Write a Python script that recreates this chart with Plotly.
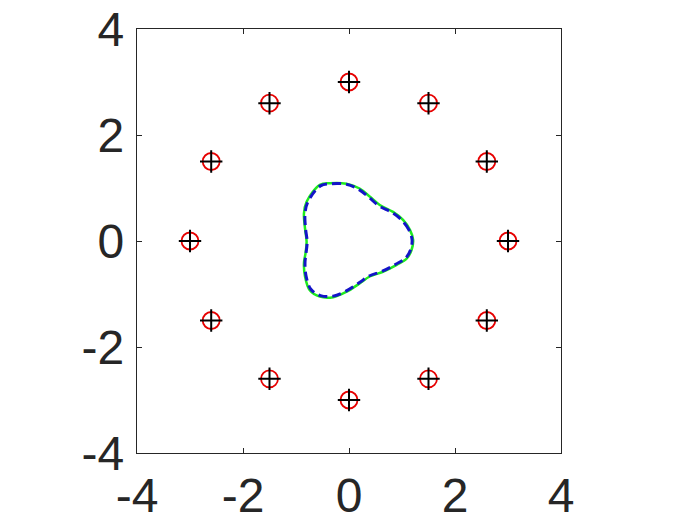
import plotly.graph_objects as go

# Sample points (red circles) and true points (black plus)
pts_x = [3.0, 2.6, 1.5, 0.0, -1.5, -2.6, -3.0, -2.6, -1.5, 0.0, 1.5, 2.6]
pts_y = [0.0, 1.5, 2.6, 3.0, 2.6, 1.5, 0.0, -1.5, -2.6, -3.0, -2.6, -1.5]

# Reconstructed boundary (green solid)
green_x = [1.21, 1.15, 1.02, 0.83, 0.58, 0.39, 0.20, -0.05, -0.36, -0.55, -0.80, -0.85,
           -0.83, -0.80, -0.82, -0.85, -0.83, -0.74, -0.55, -0.30, -0.05, 0.20, 0.39,
           0.64, 0.90, 1.09, 1.18, 1.21]
green_y = [0.02, 0.21, 0.40, 0.55, 0.68, 0.84, 0.99, 1.08, 1.09, 1.06, 0.74, 0.52,
           0.24, -0.01, -0.23, -0.42, -0.67, -0.93, -1.05, -1.06, -0.96, -0.80, -0.67,
           -0.58, -0.45, -0.33, -0.17, 0.02]

# True boundary (blue dashed)
blue_x = [1.19, 1.13, 1.00, 0.81, 0.57, 0.38, 0.19, -0.05, -0.35, -0.54, -0.78, -0.83,
          -0.82, -0.79, -0.81, -0.83, -0.81, -0.72, -0.54, -0.30, -0.05, 0.19, 0.38,
          0.63, 0.88, 1.07, 1.16, 1.19]
blue_y = [0.02, 0.21, 0.39, 0.54, 0.66, 0.82, 0.97, 1.07, 1.08, 1.04, 0.73, 0.51,
          0.24, -0.01, -0.23, -0.41, -0.66, -0.91, -1.03, -1.04, -0.94, -0.79, -0.66,
          -0.57, -0.44, -0.32, -0.17, 0.02]

tick_vals = [-4, -2, 0, 2, 4]
tick_text = ["-4", "-2", "0", "2", "4"]

fig = go.Figure()
fig.add_trace(go.Scatter(x=green_x, y=green_y, mode="lines",
                         line=dict(color="rgb(30,235,30)", width=2.5, shape="spline"),
                         showlegend=False))
fig.add_trace(go.Scatter(x=blue_x, y=blue_y, mode="lines",
                         line=dict(color="rgb(20,20,200)", width=3, dash="9px,5px", shape="spline"),
                         showlegend=False))
fig.add_trace(go.Scatter(x=pts_x, y=pts_y, mode="markers",
                         marker=dict(symbol="circle-open", size=17, color="rgb(230,0,0)",
                                     line=dict(width=1.8, color="rgb(230,0,0)")),
                         showlegend=False))
fig.add_trace(go.Scatter(x=pts_x, y=pts_y, mode="markers",
                         marker=dict(symbol="cross-thin-open", size=16, color="black",
                                     line=dict(width=2, color="black")),
                         showlegend=False))

axis_common = dict(range=[-4, 4], tickvals=tick_vals, ticktext=tick_text,
                   showgrid=False, zeroline=False, showline=True, mirror="ticks",
                   linecolor="#262626", linewidth=1.2, ticks="inside", ticklen=5,
                   tickcolor="#262626", automargin=False, ticklabeloverflow="allow",
                   tickfont=dict(family="Liberation Sans, Arial", size=48, color="#262626"))

fig.update_layout(
    width=700, height=525,
    margin=dict(l=137, r=139, t=29, b=72),
    paper_bgcolor="white", plot_bgcolor="white",
    hovermode=False,
    xaxis=dict(**axis_common, ticklabelstandoff=0),
    yaxis=dict(**axis_common, ticklabelstandoff=2),
)

fig.write_html("out.html",
               config={"displayModeBar": False},
               post_script="document.body.style.margin='0';document.body.style.overflow='hidden';")
